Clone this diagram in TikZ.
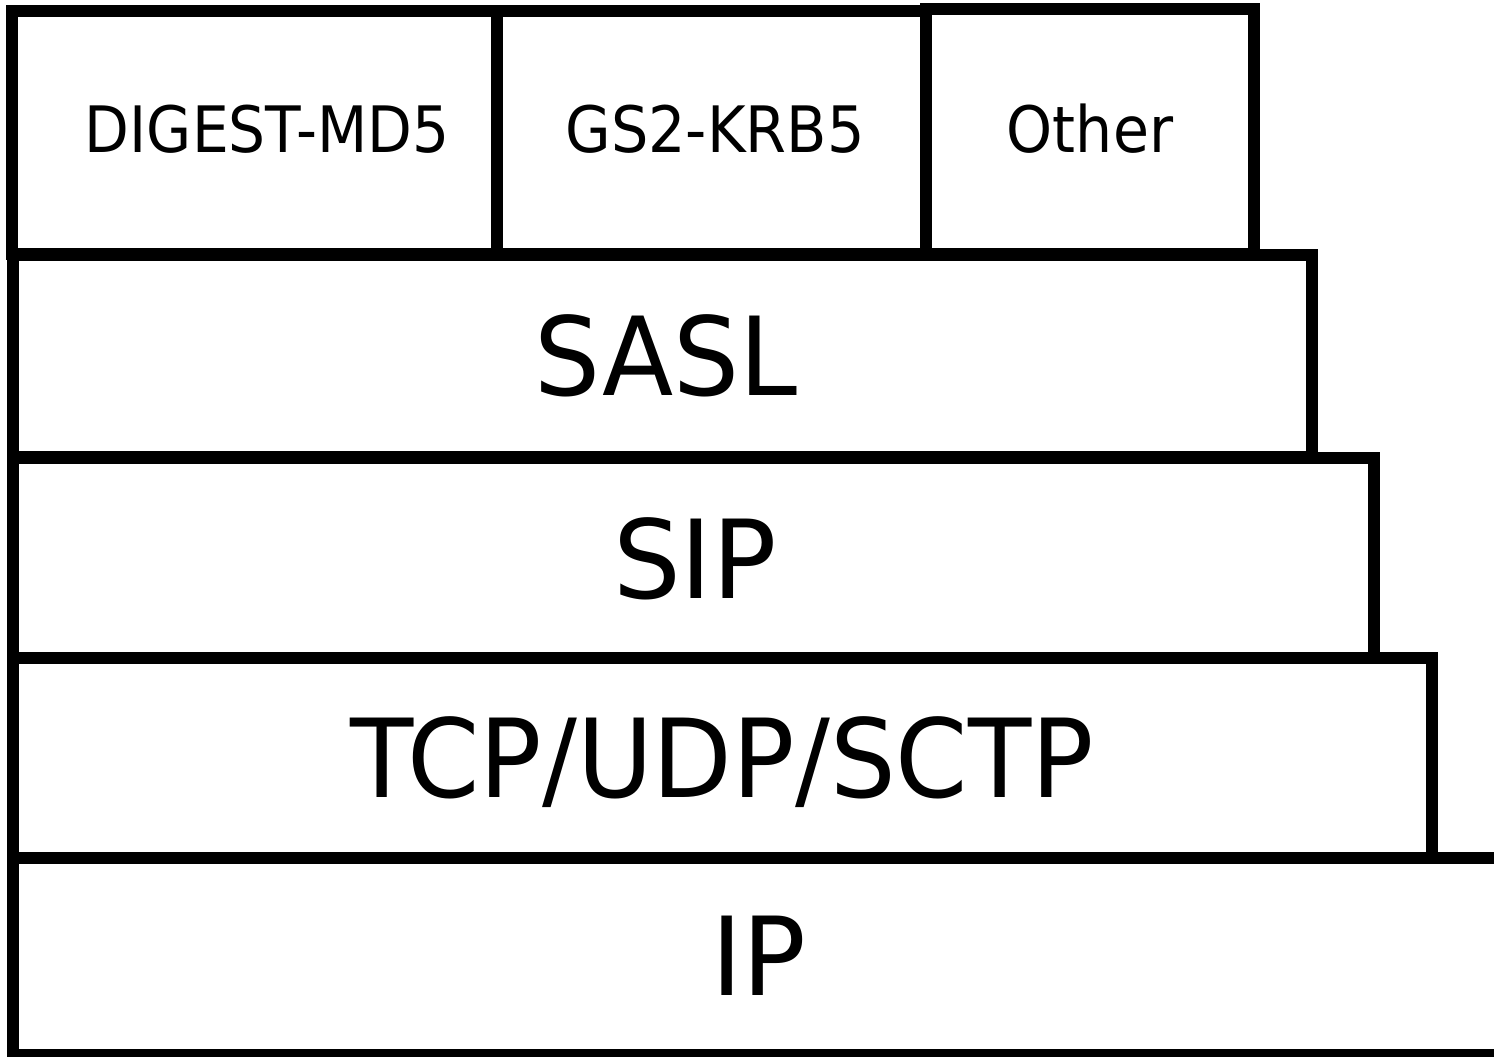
\documentclass[tikz,border=0pt]{standalone}
\usepackage{fontspec}
\usepackage{graphicx}
\setmainfont{DejaVu Sans}
\tikzset{
  layer/.style={draw=black, line width=6.2pt, line join=miter, fill=none},
  small/.style={anchor=base, inner sep=0pt, font=\fontsize{32pt}{38pt}\selectfont},
  big/.style={anchor=base, inner sep=0pt, font=\fontsize{54.5pt}{64pt}\selectfont}
}
\begin{document}
\begin{tikzpicture}[x=0.5pt, y=-0.5pt]
\useasboundingbox (0,0) rectangle (1494,1056);
\clip (0,0) rectangle (1494,1056);
% layers
\draw[layer] (13,858) rectangle (1520,1055);
\draw[layer] (13,658) rectangle (1432,858);
\draw[layer] (13,458) rectangle (1374,658);
\draw[layer] (13,255) rectangle (1312,457);
\draw[layer] (12,11) rectangle (497,254);
\draw[layer] (497,11) rectangle (926,254);
\draw[layer] (926,9) rectangle (1254,254);
% labels
\node[small] (digest) at (267,152) {\scalebox{0.91}[1]{DIGEST-MD5}};
\node[small] (gs2) at (715,152) {\scalebox{0.92}[1]{GS2-KRB5}};
\node[small] (other) at (1090,152) {\scalebox{0.915}[1]{Other}};
\node[big] (sasl) at (666,395) {\scalebox{0.955}[1]{SASL}};
\node[big] (sip) at (695,598) {\scalebox{0.98}[1]{SIP}};
\node[big] (tcp) at (722,797) {\scalebox{0.95}[1]{TCP/UDP/SCTP}};
\node[big] (ip) at (759,995) {\scalebox{0.97}[1]{IP}};
\end{tikzpicture}
\end{document}
